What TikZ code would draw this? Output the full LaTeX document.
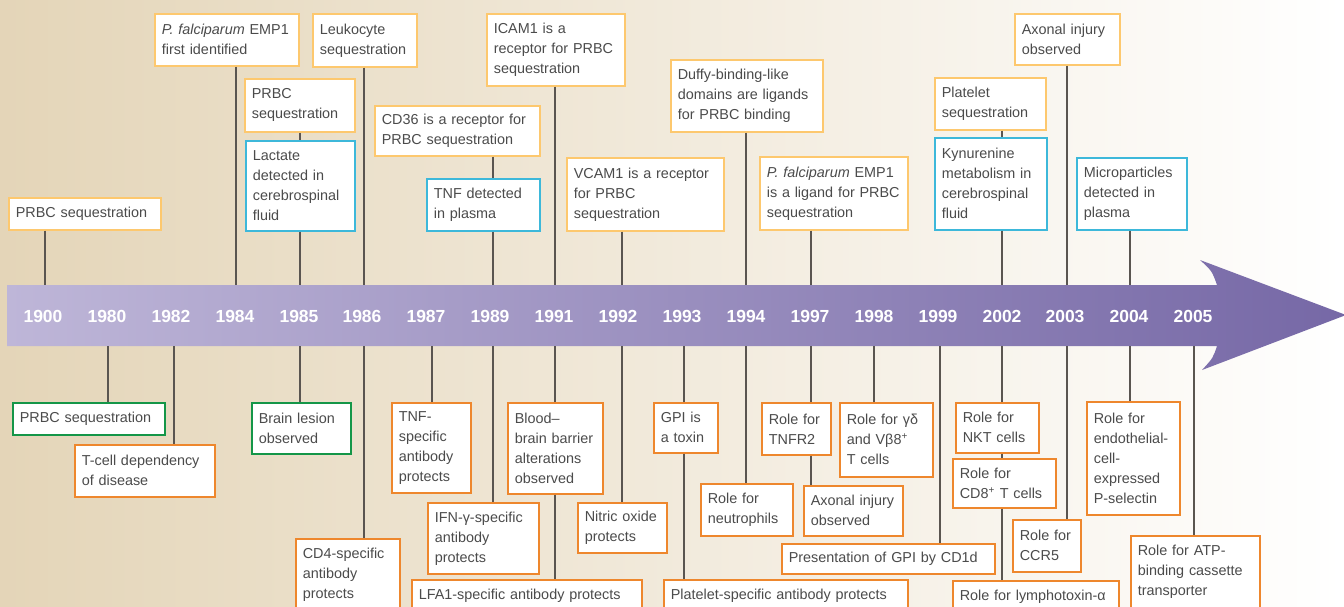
\documentclass[tikz,border=0pt]{standalone}
\usepackage{fontspec}
\setmainfont{Liberation Sans}
\definecolor{bgtan}{RGB}{228,213,184}
\definecolor{bandleft}{RGB}{190,182,216}
\definecolor{bandright}{RGB}{118,104,166}
\definecolor{humanline}{RGB}{253,200,110}
\definecolor{markerline}{RGB}{61,184,218}
\definecolor{lesionline}{RGB}{20,150,72}
\definecolor{mouseline}{RGB}{238,135,45}
\definecolor{stemgray}{RGB}{90,85,80}
\definecolor{txt}{RGB}{75,75,75}
\tikzstyle{event} = [rectangle, anchor=north west, fill=white, line width=1.6pt, align=left, inner xsep=7pt, inner ysep=4pt, text=txt, font=\fontsize{14.4}{20}\selectfont]
\tikzstyle{human} = [event, draw=humanline]
\tikzstyle{marker} = [event, draw=markerline]
\tikzstyle{lesion} = [event, draw=lesionline]
\tikzstyle{mouse} = [event, draw=mouseline]
\tikzstyle{stem} = [line width=1.3pt, draw=stemgray]
\tikzstyle{year} = [text=white, font=\fontsize{17.5}{20}\selectfont\bfseries]

\begin{document}
\begin{tikzpicture}[x=1pt, y=-1pt]
		\useasboundingbox (0,0) rectangle (1344,606);
		\shade [left color=bgtan, right color=white] (0,0) rectangle (1344,606);
		% timeline arrow
		\shade [left color=bandleft, right color=bandright] (7,285) -- (1217,285) .. controls (1212,271) .. (1200,260) -- (1346,315) -- (1202,370) .. controls (1213,358) .. (1217,346) -- (7,346) -- cycle;
		\foreach \yr/\lx/\sx in {1900/43/45, 1980/107/108, 1982/171/174, 1984/235/236, 1985/299/300, 1986/362/364, 1987/426/432, 1989/490/493, 1991/554/555, 1992/618/622, 1993/682/684, 1994/746/746, 1997/810/811, 1998/874/874, 1999/938/940, 2002/1002/1002, 2003/1065/1067, 2004/1129/1130, 2005/1193/1194}
		{
			\node (y\yr) [year] at (\lx,316) {\yr};
			\coordinate (t\yr) at (\sx,285);
			\coordinate (b\yr) at (\sx,346);
		}

		% above the timeline
		\node (a1900) [human, text width=138pt, minimum height=32pt] at (8,197) {PRBC sequestration};
		\node (a1984) [human, text width=130pt, minimum height=52pt] at (154,13) {\textit{P. falciparum} EMP1\\first identified};
		\node (a1985) [human, text width=96pt, minimum height=53pt] at (244,78) {PRBC\\sequestration};
		\node (c1985) [marker, text width=95pt, minimum height=90pt] at (245,140) {Lactate\\detected in\\cerebrospinal\\fluid};
		\node (a1986) [human, text width=90pt, minimum height=53pt] at (312,13) {Leukocyte\\sequestration};
		\node (a1989) [human, text width=151pt, minimum height=50pt] at (374,105) {CD36 is a receptor for\\PRBC sequestration};
		\node (c1989) [marker, text width=99pt, minimum height=52pt] at (426,178) {TNF detected\\in plasma};
		\node (a1991) [human, text width=124pt, minimum height=72pt] at (486,13) {ICAM1 is a\\receptor for PRBC\\sequestration};
		\node (a1992) [human, text width=143pt, minimum height=73pt] at (566,157) {VCAM1 is a receptor\\for PRBC\\sequestration};
		\node (a1994) [human, text width=138pt, minimum height=72pt] at (670,59) {Duffy-binding-like\\domains are ligands\\for PRBC binding};
		\node (a1997) [human, text width=134pt, minimum height=73pt] at (759,156) {\textit{P. falciparum} EMP1\\is a ligand for PRBC\\sequestration};
		\node (a2002) [human, text width=97pt, minimum height=52pt] at (934,77) {Platelet\\sequestration};
		\node (c2002) [marker, text width=98pt, minimum height=92pt] at (934,137) {Kynurenine\\metabolism in\\cerebrospinal\\fluid};
		\node (a2003) [human, text width=91pt, minimum height=51pt] at (1014,13) {Axonal injury\\observed};
		\node (c2004) [marker, text width=96pt, minimum height=72pt] at (1076,157) {Microparticles\\detected in\\plasma};

		% below the timeline
		\node (g1980) [lesion, text width=138pt, minimum height=32pt] at (12,402) {PRBC sequestration};
		\node (m1982) [mouse, text width=126pt, minimum height=52pt] at (74,444) {T-cell dependency\\of disease};
		\node (g1985) [lesion, text width=85pt, minimum height=51pt] at (251,402) {Brain lesion\\observed};
		\node (m1986) [mouse, text width=90pt, minimum height=72pt] at (295,538) {CD4-specific\\antibody\\protects};
		\node (m1987) [mouse, text width=65pt, minimum height=90pt] at (391,402) {TNF-\\specific\\antibody\\protects};
		\node (m1989) [mouse, text width=97pt, minimum height=71pt] at (427,502) {IFN-γ-specific\\antibody\\protects};
		\node (m1991) [mouse, text width=81pt, minimum height=91pt] at (507,402) {Blood–\\brain barrier\\alterations\\observed};
		\node (n1991) [mouse, text width=216pt, minimum height=32pt] at (411,579) {LFA1-specific antibody protects};
		\node (m1992) [mouse, text width=75pt, minimum height=50pt] at (577,502) {Nitric oxide\\protects};
		\node (m1993) [mouse, text width=50pt, minimum height=50pt] at (653,402) {GPI is\\a toxin};
		\node (n1993) [mouse, text width=230pt, minimum height=32pt] at (663,579) {Platelet-specific antibody protects};
		\node (m1994) [mouse, text width=78pt, minimum height=52pt] at (700,483) {Role for\\neutrophils};
		\node (m1997) [mouse, text width=55pt, minimum height=52pt] at (761,402) {Role for\\TNFR2};
		\node (n1997) [mouse, text width=85pt, minimum height=50pt] at (803,485) {Axonal injury\\observed};
		\node (m1998) [mouse, text width=79pt, minimum height=74pt] at (839,402) {Role for γδ\\and Vβ8\textsuperscript{+}\\T cells};
		\node (m1999) [mouse, text width=199pt, minimum height=30pt] at (781,543) {Presentation of GPI by CD1d};
		\node (m2002) [mouse, text width=69pt, minimum height=50pt] at (955,402) {Role for\\NKT cells};
		\node (n2002) [mouse, text width=89pt, minimum height=49pt] at (952,458) {Role for\\CD8\textsuperscript{+} T cells};
		\node (o2002) [mouse, text width=152pt, minimum height=32pt] at (952,580) {Role for lymphotoxin-α};
		\node (m2003) [mouse, text width=54pt, minimum height=52pt] at (1012,519) {Role for\\CCR5};
		\node (m2004) [mouse, text width=79pt, minimum height=113pt] at (1086,401) {Role for\\endothelial-\\cell-\\expressed\\P-selectin};
		\node (m2005) [mouse, text width=115pt, minimum height=72pt] at (1130,535) {Role for ATP-\\binding cassette\\transporter};

		% stems above
		\draw [stem] (a1900.south -| t1900) -- (t1900);
		\draw [stem] (a1984.south -| t1984) -- (t1984);
		\draw [stem] (a1985.south -| t1985) -- (c1985.north -| t1985);
		\draw [stem] (c1985.south -| t1985) -- (t1985);
		\draw [stem] (a1986.south -| t1986) -- (t1986);
		\draw [stem] (a1989.south -| t1989) -- (c1989.north -| t1989);
		\draw [stem] (c1989.south -| t1989) -- (t1989);
		\draw [stem] (a1991.south -| t1991) -- (t1991);
		\draw [stem] (a1992.south -| t1992) -- (t1992);
		\draw [stem] (a1994.south -| t1994) -- (t1994);
		\draw [stem] (a1997.south -| t1997) -- (t1997);
		\draw [stem] (a2002.south -| t2002) -- (c2002.north -| t2002);
		\draw [stem] (c2002.south -| t2002) -- (t2002);
		\draw [stem] (a2003.south -| t2003) -- (t2003);
		\draw [stem] (c2004.south -| t2004) -- (t2004);

		% stems below
		\draw [stem] (b1980) -- (g1980.north -| b1980);
		\draw [stem] (b1982) -- (m1982.north -| b1982);
		\draw [stem] (b1985) -- (g1985.north -| b1985);
		\draw [stem] (b1986) -- (m1986.north -| b1986);
		\draw [stem] (b1987) -- (m1987.north -| b1987);
		\draw [stem] (b1989) -- (m1989.north -| b1989);
		\draw [stem] (b1991) -- (m1991.north -| b1991);
		\draw [stem] (m1991.south -| b1991) -- (n1991.north -| b1991);
		\draw [stem] (b1992) -- (m1992.north -| b1992);
		\draw [stem] (b1993) -- (m1993.north -| b1993);
		\draw [stem] (m1993.south -| b1993) -- (n1993.north -| b1993);
		\draw [stem] (b1994) -- (m1994.north -| b1994);
		\draw [stem] (b1997) -- (m1997.north -| b1997);
		\draw [stem] (m1997.south -| b1997) -- (n1997.north -| b1997);
		\draw [stem] (b1998) -- (m1998.north -| b1998);
		\draw [stem] (b1999) -- (m1999.north -| b1999);
		\draw [stem] (b2002) -- (m2002.north -| b2002);
		\draw [stem] (m2002.south -| b2002) -- (n2002.north -| b2002);
		\draw [stem] (n2002.south -| b2002) -- (o2002.north -| b2002);
		\draw [stem] (b2003) -- (m2003.north -| b2003);
		\draw [stem] (b2004) -- (m2004.north -| b2004);
		\draw [stem] (b2005) -- (m2005.north -| b2005);
	\end{tikzpicture}
\end{document}
